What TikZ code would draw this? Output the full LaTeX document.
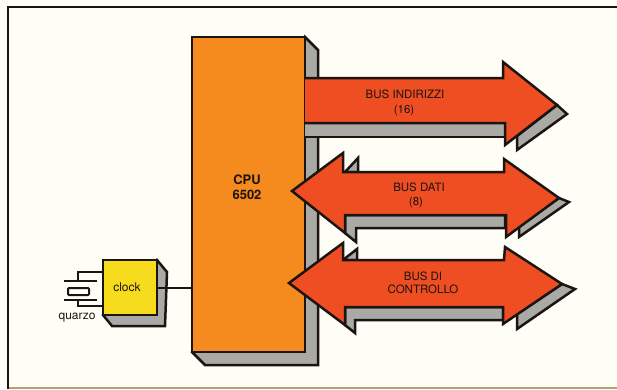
\documentclass[tikz,border=0pt]{standalone}
\usepackage{xcolor}
\usepackage{fontspec}
\setmainfont{TeX Gyre Heros}
\usetikzlibrary{positioning, calc}
\definecolor{paper}{HTML}{FEFDF6}
\definecolor{cpuorange}{HTML}{F58A1F}
\definecolor{busred}{HTML}{EF4E23}
\definecolor{clockyellow}{HTML}{F7DC1E}
\definecolor{shadowgrey}{HTML}{A9A9A5}
\definecolor{inkdark}{HTML}{1C1410}
\definecolor{edgetan}{HTML}{B8A070}
\tikzset{
  outline/.style={draw=inkdark, line width=2.5pt, line join=miter},
  thinline/.style={outline, line width=2pt},
  shadowpart/.style={outline, fill=shadowgrey},
  buspart/.style={outline, fill=busred},
  buslabel/.style={font=\fontsize{11.5}{12.6}\selectfont, text=inkdark, align=center, inner sep=0pt},
}

\begin{document}
\begin{tikzpicture}[x=1pt, y=-1pt]
  \useasboundingbox (0,0) rectangle (617,389);
  \fill[paper] (0,0) rectangle (617,389);
  \draw[edgetan, line width=1.5pt] (8,388.2) -- (617,388.2);
  \draw[draw=inkdark, line width=2pt] (8,389) -- (8,7) -- (617,7);

  % cpu with its shadow
  \draw[shadowpart] (305,37) -- (318,50) -- (318,365) -- (205,365) -- (192,352) -- cycle;
  \node[outline, fill=cpuorange, minimum width=113pt, minimum height=315pt, inner sep=0pt] (cpu) at (248.5,194.5) {};
  \node[font=\bfseries\fontsize{13}{15}\selectfont, text=inkdark, align=center, inner sep=0pt] (cpulabel) at (247,187) {CPU\\6502};

  % bus indirizzi
  \draw[shadowpart] (305,123) -- (505,123) -- (505,137) -- (305,137);
  \draw[shadowpart] (517,136) -- (517,150) -- (567,114) -- (557,105) -- cycle;
  \draw[buspart] (305,78) -- (503,78) -- (503,62) -- (557,105) -- (505,145) -- (505,123) -- (305,123);
  \node[buslabel] (busaddr) at (405,94) {BUS INDIRIZZI};
  \node[buslabel] (busaddrnum) at (404,111) {(16)};

  % bus dati
  \draw[shadowpart] (345,172) -- (358,158) -- (358,172) -- cycle;
  \draw[shadowpart] (345,215) -- (345,233) -- (356,242) -- (356,228) -- (505,228) -- (505,215) -- cycle;
  \draw[shadowpart] (519,226) -- (519,237) -- (569,202) -- (559,198) -- cycle;
  \draw[buspart] (292,191) -- (343,153) -- (343,172) -- (504,172) -- (504,159) -- (559,198)
    -- (506,237) -- (506,215) -- (345,215) -- (345,233) -- cycle;
  \node[buslabel] (busdata) at (419,187) {BUS DATI};
  \node[buslabel] (busdatanum) at (416,203) {(8)};

  % bus di controllo
  \draw[shadowpart] (343,260) -- (357,249) -- (357,260) -- cycle;
  \draw[shadowpart] (345,307) -- (345,325) -- (355,333) -- (355,320) -- (503,320) -- (503,307) -- cycle;
  \draw[shadowpart] (517,314) -- (517,329) -- (575,289) -- (562,284) -- cycle;
  \draw[buspart] (289,283) -- (343,243) -- (343,260) -- (504,260) -- (505,247) -- (562,284)
    -- (503,324) -- (503,307) -- (345,307) -- (345,325) -- cycle;
  \node[buslabel] (busctrl) at (423,283) {BUS DI\\CONTROLLO};

  % clock and quarzo
  \draw[shadowpart] (157,260) -- (167,272) -- (165,326) -- (112,326) -- (103,315) -- cycle;
  \node[outline, fill=clockyellow, minimum width=54pt, minimum height=55pt, inner sep=0pt] (clock) at (130,287.5) {};
  \node[font=\fontsize{12}{14}\selectfont, text=inkdark, inner sep=0pt] (clocklabel) at (127,287) {clock};
  \draw[thinline] (clock) -- (cpu.west |- clock);
  \draw[thinline] (clock.west |- 0,272) -- (78,272) -- (78,281);
  \draw[thinline] (64,281) -- (97,281);
  \draw[thinline, rounded corners=1pt] (68,288) rectangle (89,295);
  \draw[thinline] (64,300) -- (97,300);
  \draw[thinline] (78,300) -- (78,306) -- (clock.west |- 0,306);
  \node[font=\fontsize{12}{14}\selectfont, text=inkdark, inner sep=0pt] (quarzo) at (77,318) {quarzo};
\end{tikzpicture}
\end{document}
